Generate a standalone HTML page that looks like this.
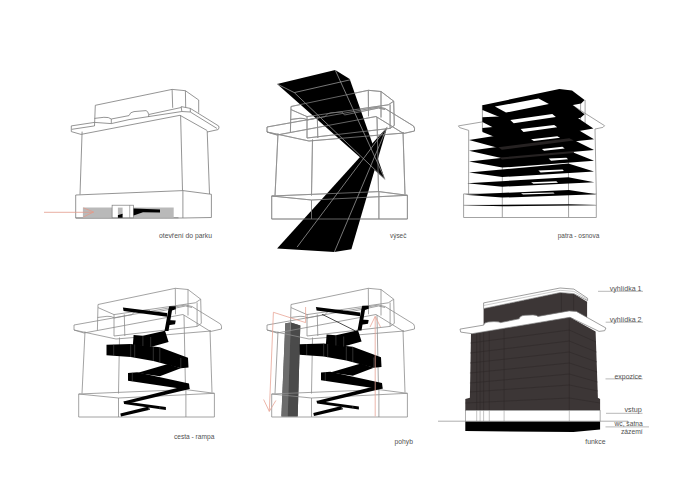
<!DOCTYPE html>
<html><head><meta charset="utf-8">
<style>
html,body{margin:0;padding:0;background:#fff;width:700px;height:495px;overflow:hidden}
svg{display:block}
text{font-family:"Liberation Sans",sans-serif;font-size:7.8px;fill:#505050}
</style></head><body>
<svg width="700" height="495" viewBox="0 0 700 495">
<defs>
<!-- wireframe building in panel-1 coords -->
<g id="wire" fill="none" stroke="#8c8c8c" stroke-width="0.8">
  <!-- attic top -->
  <path d="M95,105.5 L172.3,89.3 L185,90.5 L197.7,100.2"/>
  <path d="M95,108.6 L111,115.6 L192.3,103.8 L197.7,100.2"/>
  <path d="M95,105.5 L94.4,131.4 M111,115.6 L111,137 M121.3,115.4 L121.8,137 M172.3,89.3 L172.5,115.3 M185,90.5 L185,116.5 M197.7,100.2 L198.3,124.4 M194.1,103.5 L194.1,127.4"/>
  <path d="M94.5,118.5 L104,117.3 Q109,117 111.3,119 L129,115.6 Q131,112 135,111.8 L146,111 L148.5,114 L182.5,107 L189,108.5"/>
  <path d="M111,137 L194.1,127.4 L198.3,124.4"/>
  <!-- cornice -->
  <path d="M71,126 L182.5,106 L189,107.5 L217.5,125 Q219,127 218.5,130 L207.5,132.5 L180,115.5 L81,134 L71,131 Z"/>
  <path d="M71,131 L113,140 L208,132"/>
  <!-- body -->
  <path d="M82,132.5 L79,194.5 M116.5,138.5 L115.5,194.5 M181,116 L182.5,191 M207,131 L209,193.5"/>
  <!-- base -->
  <path d="M75.7,195 L182.9,190.6 L211.4,194.3 L211.4,218 L75.7,218 Z"/>
  <path d="M75.7,195 L115.5,199 L211.4,194.3 M115.5,199 L115.5,218 M182.9,190.6 L182.9,218"/>
</g>
<!-- zigzag ramp in panel-4 absolute coords -->
<g id="ramp" fill="#000">
  <polygon points="122.9,307.6 167.1,313.1 167.1,316.8 123.6,311"/>
  <polygon points="169.3,306.2 175.7,306.2 175.7,309.3 172,310.5 168.5,331 164.5,331 168.5,309"/>
  <polygon points="167.5,320 175.7,320.5 175,324.3 170,325 168,325"/>
  <polygon points="133.6,335 142.9,335.7 165,330.7 168.6,342.1 150.7,347.1 132.9,345"/>
  <polygon points="106.5,344.8 130.7,344 159.8,347.3 188,357.8 188.5,367.5 180.8,368.3 153.3,361 130.7,357 106.5,355.3"/>
  <polygon points="167.9,363.9 180.8,368.3 159.8,376.3 137.2,373.1"/>
  <polygon points="128,373.1 137.2,372.3 189,383.4 189.7,389.1 183.3,389.1 128,380.8"/>
  <polygon points="187,385.5 189.7,389.1 129.5,403.2 123.5,401.5"/>
  <polygon points="123.5,401.3 165.9,407.1 165.9,410 124.1,404"/>
  <polygon points="148.6,406.5 120.3,413.4 121,416.5 150,409.8"/>
  <g stroke="#6a6a6a" stroke-width="0.45" fill="none">
    <path d="M113.7,344.5 V355.5 M130.7,344 V357 M134.7,344.5 V357.8 M153.3,347 V361 M159.8,347.5 V362.5 M142.9,335.7 V346 M150.7,337 V347 M132.3,372.5 V381.5 M148.5,407 V410 M159.8,406.5 V409.5 M180.8,358 V368.3"/>
  </g>
</g>
</defs>

<!-- ============ PANEL 1 ============ -->
<g fill="none" stroke="#7a7a7a" stroke-width="0.8">
  <path d="M95.3,105.3 L172.1,89.4 L185.4,90.7 L198.7,100 L198.7,112.7"/>
  <path d="M95.3,105.3 L94.5,126 M172.1,89.4 L172.7,107.8 M185.4,90.7 L185.7,107.4"/>
  <path d="M94.5,118.4 L103.9,117.3 Q109,117 111.3,119 L111.3,123.6 M111.3,119 L129,115.6 Q130,112 134,111.6 L146,110.6 Q148,111 148.7,114.5 L181.2,107.5"/>
  <path d="M94.5,122.4 L111.3,123.6 L129,119.6 M148.7,114.5 L148.7,117"/>
  <path d="M71.3,125.9 L94.5,122.4 M181.2,106.6 L190.3,108.4 L218.7,126 Q219.6,128 218.1,129.6 L207.2,132 M207.2,130.6 L180,115.3 L81,134.4 L71.3,131.6 L71.3,125.9"/>
  <path d="M71.9,129.3 L94.5,125.9 M129,119.6 L181.8,111.5 L190.3,112 L216.9,128.4 M181.2,106.6 L181.8,111.5 M190.3,108.4 L190.3,112"/>
  <path d="M82.1,131.6 L80,194.5 M180.6,115.3 L182.5,190.6 M207.2,131 L209.5,194"/>
  <path d="M75.7,195 L182.9,190.6 L211.4,194.3 L211.4,217.5 L182.9,218 L75.7,218 Z M182.9,190.6 L182.9,218 M75.7,218 L178.5,217.8"/>
</g>
<polygon points="82.9,207.6 173.7,207.6 173.7,217.8 82.9,217.8" fill="#b9b9b9"/>
<rect x="112.1" y="205.2" width="21.5" height="12.6" fill="#fff" stroke="#7a7a7a" stroke-width="0.7"/>
<line x1="129.7" y1="205.2" x2="129.7" y2="217.8" stroke="#7a7a7a" stroke-width="0.6"/>
<rect x="117.9" y="207.6" width="4.7" height="7" fill="#b9b9b9"/>
<polygon points="117.9,215 122.6,213.8 122.6,217.8 117.9,217.8" fill="#000"/>
<polygon points="133.6,208.4 160,209.5 160,212.5 143,212.3 133.6,215.4" fill="#000"/>
<g fill="none" stroke="#e39a8a" stroke-width="0.8">
  <path d="M44,212.3 L93.6,212.3 M83.4,207.9 L93.6,212 L83.4,217"/>
</g>
<text x="159" y="238.2" textLength="53" lengthAdjust="spacingAndGlyphs">otevření do parku</text>

<!-- ============ PANEL 2 ============ -->
<use href="#wire" transform="translate(196,1)"/>
<polygon points="277.1,84 335.2,70 349.7,78.9 385.1,179.4" fill="#000"/>
<polygon points="387.2,126.9 351.4,249.3 334.3,252.1 277.1,248.6" fill="#000"/>
<g fill="none" stroke="#aaa" stroke-width="0.7">
  <path d="M335.2,70 L385.1,179.4 M387.2,126.9 L297.1,247.1 M387.2,126.9 L334.3,252.1 M277.1,84 L294.3,92.6 L350.2,79.8 M294.3,92.6 L385.1,179.4"/>
</g>
<use href="#wire" transform="translate(196,1)" opacity="0.9"/>
<text x="390" y="237.6" textLength="16.4" lengthAdjust="spacingAndGlyphs">výseč</text>

<!-- ============ PANEL 3 ============ -->
<g fill="none" stroke="#8c8c8c" stroke-width="0.8">
  <path d="M458.4,125.9 L482.4,121.9 M573.1,105.7 L604.6,125.7 L602.9,127.4 L595,129 M459.6,127.6 L468.7,130.4 M458.4,125.9 L459.6,127.6"/>
  <path d="M482.4,105 L482.4,131 M580.6,101 L580.6,124 M585.1,100 L585.1,128"/>
  <path d="M468.7,130.4 L468.6,193.9 M502.3,140 L502.3,217.5 M568.3,125 L568.6,217.5 M595,129 L596.3,194"/>
  <path d="M463.6,193.9 L596.3,193.9 L596.3,217.5 L463.6,217.5 Z M463.6,205.3 L596.3,205.3"/>
</g>
<g fill="#000">
  <polygon points="482.4,105.3 559.4,88.9 572,90.5 584.6,100 581.1,103.4 502,118 482.4,109.9"/>
  <polygon points="482.4,117.3 499,116.6 564,104 572,104.5 584.6,114.3 580.6,117.7 502,132 482.4,121.9"/>
  <polygon points="482.4,128.1 493,127 568.3,111.5 593.4,128.5 510.3,143 482.4,132.1"/>
  <polygon points="469,140.1 568.3,124.1 594,139.3 502.3,149.1"/>
  <polygon points="469,150.7 568.3,137.2 594,149.9 502.3,158.2"/>
  <polygon points="469,161.6 568.3,150.6 594,160.8 502.3,167.6"/>
  <polygon points="469,172.4 568.3,163.6 594,171.6 502.3,177.0"/>
  <polygon points="467,183.3 568.3,177.3 594.3,182.3 502.3,186.7"/>
  <polygon points="464.6,194.7 568.9,189.9 596.3,194.3 502.3,197.6"/>
  <polygon points="464.6,205.3 568.6,204.2 596.4,205.1 502,206.3"/>
</g>
<g fill="#262222">
  <polygon points="498.4,147.3 569.3,138.2 573.9,140.4 501.9,149.8"/>
  <polygon points="499.6,157.6 573.9,151 573.9,153 501.9,159.5"/>
</g>
<g fill="#fff">
  <polygon points="494.9,106.6 538.6,98.5 548.9,104 506,112.6"/>
  <polygon points="510.3,120 552.3,114 555.9,116.9 513.7,123.2"/>
  <polygon points="520.6,128.9 554.2,125 557.2,127.3 523.5,131.9"/>
  <polygon points="531,139.2 557.3,136.2 560.1,137.8 533.9,141.1"/>
  <polygon points="541.9,148.9 562.4,146.7 564.7,148.4 544.1,150.8"/>
  <polygon points="548.7,158.6 566.4,157.7 568.1,159.3 551,160.8"/>
  <polygon points="538.4,170.6 562.6,169.4 563.9,171 540.6,172.4"/>
  <polygon points="531.1,182.2 556.3,181.3 558,182.7 533.4,183.7"/>
  <polygon points="521,193.3 553.4,192.4 554.6,193.6 523,194.5"/>
</g>
<text x="557.7" y="238.0" textLength="41.6" lengthAdjust="spacingAndGlyphs">patra - osnova</text>

<!-- ============ PANEL 4 ============ -->
<use href="#wire" transform="translate(3,199)"/>
<use href="#ramp"/>
<text x="174" y="438.9" textLength="40.3" lengthAdjust="spacingAndGlyphs">cesta - rampa</text>

<!-- ============ PANEL 5 ============ -->
<polygon points="285.3,323.3 290.8,322.4 300.3,325.4 297.7,416.4 281.4,416.4" fill="#5a5a5a"/>
<polygon points="290.8,322.4 300.3,325.4 297.7,416.4 287.7,416.4" fill="#4a4a4a"/>
<polygon points="285.3,323.3 290.8,322.4 287.7,416.4 281.4,416.4" fill="#6c6c6c"/>
<use href="#wire" transform="translate(196,199)"/>
<use href="#ramp" transform="translate(193,-0.5)"/>
<line x1="322.1" y1="314.3" x2="355" y2="330.7" stroke="#222" stroke-width="0.8"/>
<g fill="none" stroke="#e8a595" stroke-width="0.8">
  <path d="M305.6,307 L305.6,322.6 L273.4,312.3 L269.3,411.4 M263.6,399.5 L269.3,411.4 L275.9,400.5"/>
  <path d="M375.2,316.4 L375.2,416.4 M370,327 L375.2,316.4 L380.5,327"/>
</g>
<text x="394.6" y="444.3" textLength="18.4" lengthAdjust="spacingAndGlyphs">pohyb</text>

<!-- ============ PANEL 6 ============ -->
<g>
  <!-- attic -->
  <polygon points="483.6,308.6 560.1,292.6 573.9,293.7 587.1,301.7 587.1,318 483.6,326" fill="#3c3636"/>
  <path d="M483.6,302.9 L560.1,288 L573.9,289.1 L587.6,298.3 L587.6,300.6 L573.9,293.7 L560.1,292.6 L483.6,308.6 Z" fill="#fff" stroke="#777" stroke-width="0.7"/>
  <path d="M483.6,305.5 L560.1,290.3 L573.9,291.4 L587.6,299.5" fill="none" stroke="#999" stroke-width="0.5"/>
  <path d="M561.4,293 V313 M573.6,294 V311.5" stroke="#2c2727" stroke-width="0.5"/>
  <!-- body -->
  <polygon points="471,333.6 570,317.3 595.6,331.4 597.9,397.7 600.1,398.9 600.1,410.3 465.3,410.3 465.3,398.9 469.9,397.7" fill="#3c3636"/>
  <g stroke="#2c2727" stroke-width="0.5" fill="none">
    <path d="M476.7,333 V410 M480.1,332.5 V410 M483.6,332 V410 M489.3,331 V410 M504.1,329 V410 M569.3,319 V410"/>
    <path d="M470.5,343 L569.3,330 L596,342 M470.2,353 L569.3,341 L596.5,352 M470,363 L569.3,352 L597,362 M469.9,373 L569.3,363 L597.2,372 M469.9,383 L569.3,374 L597.5,382 M469.9,392 L569.3,385 L597.8,391 M465.5,403 L569.3,398 L600,403"/>
  </g>
  <!-- cornice -->
  <path d="M460,329.1 L483.7,325.1 Q484,322.5 488,322 L494,321.6 Q499,321.6 500.5,322.6 L519.1,318.8 Q520,315.6 525,315.3 L533,314.9 Q537,315 538,316.4 L569.1,310.9 L576.4,311.4 L605.9,328 L604.7,330.7 L599,331.4 L570,317.3 L472.1,333.7 L460.7,332.1 Z" fill="#fff" stroke="#777" stroke-width="0.7"/>
  <!-- vstup white band -->
  <rect x="465.3" y="410.3" width="134.8" height="11" fill="#fff" stroke="#777" stroke-width="0.6"/>
  <path d="M476.7,410.3 V421.3 M480.1,410.3 V421.3 M483.6,410.3 V421.3 M489.3,410.3 V421.3 M504.1,410.3 V421.3 M569.3,410.3 V421.3" stroke="#888" stroke-width="0.5"/>
  <polygon points="465.3,421.8 600.1,421.8 600.1,429.5 573.4,432 465.3,431" fill="#000"/>
  <line x1="438" y1="421.2" x2="628" y2="421.2" stroke="#777" stroke-width="0.6"/>
</g>
<g stroke="#888" stroke-width="0.6">
  <line x1="598" y1="291.3" x2="643" y2="291.3"/>
  <line x1="605.7" y1="322.2" x2="643" y2="322.2"/>
  <line x1="605.5" y1="378.9" x2="642.7" y2="378.9"/>
  <line x1="606" y1="413.3" x2="642.5" y2="413.3"/>
  <line x1="605.5" y1="426.9" x2="649" y2="426.9"/>
</g>
<text x="609.7" y="290.7" textLength="31.8" lengthAdjust="spacingAndGlyphs">vyhlídka 1</text>
<text x="609.7" y="321.5" textLength="31.8" lengthAdjust="spacingAndGlyphs">vyhlídka 2</text>
<text x="614.5" y="378.8" textLength="27.3" lengthAdjust="spacingAndGlyphs">expozice</text>
<text x="624.5" y="412.4" textLength="17.3" lengthAdjust="spacingAndGlyphs">vstup</text>
<text x="614.5" y="426.1" textLength="28.2" lengthAdjust="spacingAndGlyphs">wc, šatna</text>
<text x="620.9" y="434.2" textLength="21.8" lengthAdjust="spacingAndGlyphs">zázemí</text>
<text x="585.3" y="444.2" textLength="20.2" lengthAdjust="spacingAndGlyphs">funkce</text>
</svg>
</body></html>
